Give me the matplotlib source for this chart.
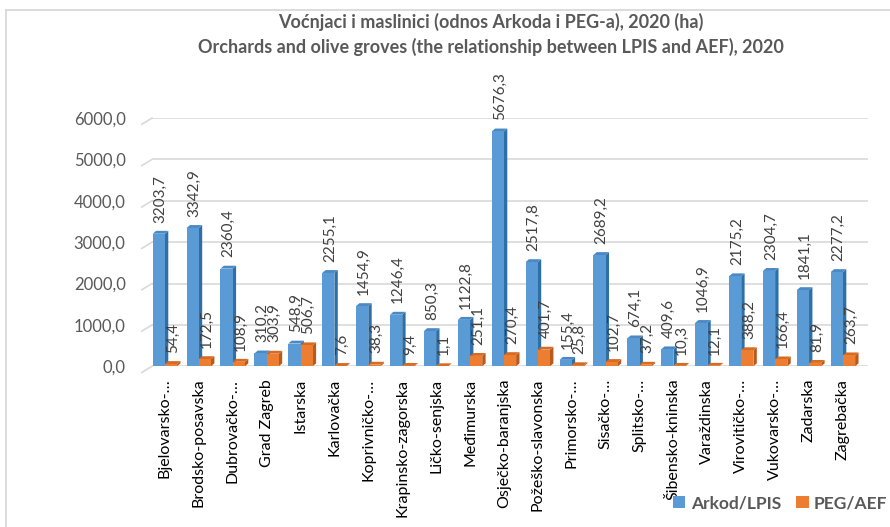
import numpy as np
import matplotlib
matplotlib.use("Agg")
import matplotlib.pyplot as plt
from matplotlib.patches import Polygon, Patch, Rectangle
from matplotlib.lines import Line2D

counties = ["Bjelovarsko-…", "Brodsko-posavska", "Dubrovačko-…", "Grad Zagreb",
            "Istarska", "Karlovačka", "Koprivničko-…", "Krapinsko-zagorska",
            "Ličko-senjska", "Međimurska", "Osječko-baranjska", "Požeško-slavonska",
            "Primorsko-…", "Sisačko-…", "Splitsko-…", "Šibensko-kninska",
            "Varaždinska", "Virovitičko-…", "Vukovarsko-…", "Zadarska", "Zagrebačka"]
arkod = [3203.7, 3342.9, 2360.4, 310.2, 548.9, 2255.1, 1454.9, 1246.4, 850.3,
         1122.8, 5676.3, 2517.8, 155.4, 2689.2, 674.1, 409.6, 1046.9, 2175.2,
         2304.7, 1841.1, 2277.2]
peg = [54.4, 172.5, 108.9, 303.9, 506.7, 7.6, 38.3, 9.4, 1.1, 251.1, 270.4,
       401.7, 25.8, 102.7, 37.2, 10.3, 12.1, 388.2, 166.4, 81.9, 263.7]
yticks = [0, 1000, 2000, 3000, 4000, 5000, 6000]

# Excel-ish palette
BLUE = "#5B9BD5"; BLUE_SIDE = "#2F6FA8"; BLUE_TOP = "#4A89C4"
ORANGE = "#ED7D31"; ORANGE_SIDE = "#B85A1B"; ORANGE_TOP = "#D96A22"
GRID = "#D9D9D9"; TXT = "#595959"; LBL = "#404040"

plt.rcParams["font.family"] = ["Lato", "DejaVu Sans"]

W = 0.36          # bar width (category units)
DX = 0.10         # 3D depth, x (category units)
DY = 70           # 3D depth, y (data units)
XLIM = (-0.38, 20.74)


def fmt(v):
    return f"{v:.1f}".replace(".", ",")


def bar3d(ax, xc, h, front, side, top, z):
    x0, x1 = xc - W / 2, xc + W / 2
    ax.add_patch(Polygon([(x1, 0), (x1 + DX, DY), (x1 + DX, h + DY), (x1, h)],
                         closed=True, fc=side, ec="none", zorder=z))
    ax.add_patch(Polygon([(x0, h), (x0 + DX, h + DY), (x1 + DX, h + DY), (x1, h)],
                         closed=True, fc=top, ec="none", zorder=z))
    ax.add_patch(Rectangle((x0, 0), W, h, fc=front, ec="none", zorder=z))


fig = plt.figure(figsize=(8.9, 5.27), dpi=100)
# chart frame (top and left edges visible in the crop)
fig.add_artist(Line2D([6 / 890, 1.0], [1 - 10 / 527] * 2, color=GRID, lw=1.3))
fig.add_artist(Line2D([6 / 890] * 2, [0.0, 1 - 10 / 527], color=GRID, lw=1.3))

ax = fig.add_axes([0.1708, 0.305, 0.8045, 0.471])
x = np.arange(len(counties))

for i in x:
    bar3d(ax, i - W / 2, arkod[i], BLUE, BLUE_SIDE, BLUE_TOP, 3 + i * 0.01)
    bar3d(ax, i + W / 2, peg[i], ORANGE, ORANGE_SIDE, ORANGE_TOP, 3.005 + i * 0.01)
    ax.annotate(fmt(arkod[i]), (i - W / 2 + DX / 2, arkod[i] + DY), xytext=(0, 6),
                textcoords="offset points", rotation=90, ha="center", va="bottom",
                fontsize=11, color=LBL, zorder=10)
    ax.annotate(fmt(peg[i]), (i + W / 2 + DX / 2, peg[i] + DY), xytext=(0, 6),
                textcoords="offset points", rotation=90, ha="center", va="bottom",
                fontsize=11, color=LBL, zorder=10)

ax.set_xlim(*XLIM)
ax.set_ylim(0, 6000)
ax.set_yticks(yticks)
ax.set_yticklabels([fmt(v) for v in yticks], fontsize=12, color=TXT)
ax.set_xticks(x)
ax.set_xticklabels(counties, rotation=90, fontsize=11.5, color="black", va="top", ha="center")
ax.tick_params(axis="both", length=0)
ax.tick_params(axis="x", pad=9)
ax.tick_params(axis="y", pad=19)
for s in ax.spines.values():
    s.set_visible(False)
ax.grid(axis="y", color=GRID, lw=1.2, zorder=0)
ax.set_axisbelow(True)
# slanted side-wall edge of each gridline
for v in yticks:
    ax.plot([XLIM[0] - 0.3, XLIM[0]], [v - 150, v], color=GRID, lw=1.2,
            clip_on=False, zorder=0)

fig.text(0.552, 0.958, "Voćnjaci i maslinici (odnos Arkoda i PEG-a), 2020 (ha)",
         ha="center", va="center", fontsize=13, fontweight="bold", color=TXT)
fig.text(0.552, 0.911, "Orchards and olive groves (the relationship between LPIS and AEF), 2020",
         ha="center", va="center", fontsize=13, fontweight="bold", color=TXT)

handles = [Patch(fc=BLUE, ec="none", label="Arkod/LPIS"),
           Patch(fc=ORANGE, ec="none", label="PEG/AEF")]
leg = fig.legend(handles=handles, loc="center right", bbox_to_anchor=(0.997, 0.045),
                 ncol=2, frameon=False, handlelength=0.7, handleheight=0.7,
                 handletextpad=0.3, columnspacing=0.9, borderaxespad=0, borderpad=0,
                 prop={"size": 12.5, "weight": "bold"})
for t in leg.get_texts():
    t.set_color(TXT)

fig.savefig("out.png", dpi=100)
